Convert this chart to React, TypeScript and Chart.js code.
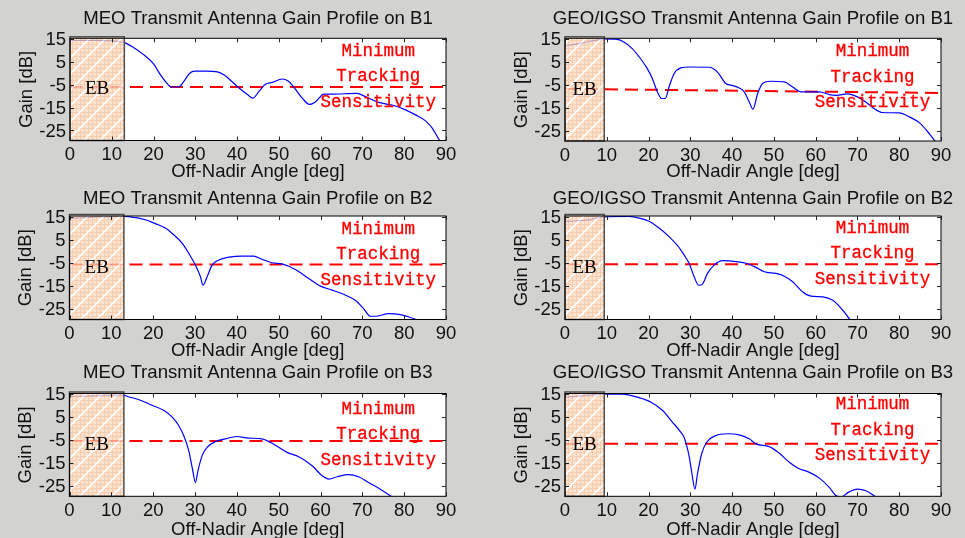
import { useEffect, useRef } from "react";
import { Chart, registerables } from "chart.js";

Chart.register(...registerables);

// ---------------- data ----------------
const xTickValues = [0, 10, 20, 30, 40, 50, 60, 70, 80, 90];
const yTickValues = [-25, -15, -5, 5, 15];
const panelTitles = [
  "MEO Transmit Antenna Gain Profile on B1",
  "GEO/IGSO Transmit Antenna Gain Profile on B1",
  "MEO Transmit Antenna Gain Profile on B2",
  "GEO/IGSO Transmit Antenna Gain Profile on B2",
  "MEO Transmit Antenna Gain Profile on B3",
  "GEO/IGSO Transmit Antenna Gain Profile on B3",
];
const xAxisTitle = "Off-Nadir Angle [deg]";
const yAxisTitle = "Gain [dB]";
const noteLines = ["Minimum", "Tracking", "Sensitivity"];
const ebText = "EB";

const meoB1Angle = [0, 3, 6, 9, 11, 13, 15, 17.3, 19.9, 21.7, 22.9, 24.3, 26.1, 27.3, 28.6, 29.9, 32.5, 35.3, 36.9, 38.8, 40.4, 42.4, 43.8, 45.2, 46.7, 48.4, 50.8, 52.2, 53.8, 55.6, 57.3, 58.8, 60.8, 62.8, 68.7, 70.7, 73.9, 77.5, 80.3, 82.7, 85.1, 86.7, 88.6, 90];
const meoB1Gain = [14.3, 14.4, 14.4, 14.2, 14.0, 13.4, 11.5, 8.6, 4.3, -0.8, -3.7, -6.0, -5.9, -3.4, -0.1, 0.9, 0.9, 0.6, -0.8, -3.7, -6.3, -9.2, -10.9, -8.0, -4.9, -4.0, -2.5, -3.4, -6.6, -10.9, -13.6, -12.4, -9.1, -9.1, -8.8, -10.2, -12.7, -14.1, -16.0, -18.2, -20.8, -24.0, -29.8, -33];

const geoB1Angle = [0, 1, 4.2, 7.3, 9.3, 12.1, 14.1, 16.1, 18.1, 19.7, 20.9, 22.1, 23.1, 24.0, 24.9, 26.1, 27.7, 29.7, 34.5, 36.5, 38.5, 39.7, 41.7, 42.9, 44.1, 45.0, 46.1, 47.3, 49.3, 52.5, 54.5, 56.5, 58.5, 60.9, 63.3, 64.9, 67.6, 70, 72, 74, 76, 80, 82.4, 84.8, 87.2, 88.7, 90];
const geoB1Gain = [12.0, 12.2, 13.3, 14.4, 15.0, 14.9, 13.7, 10.8, 6.4, 2.1, -2.2, -8.0, -10.9, -10.9, -5.9, -0.1, 2.4, 2.8, 2.7, 0.6, -4.4, -5.1, -6.3, -8.0, -12.4, -15.6, -8.8, -4.4, -3.4, -3.7, -5.9, -8.0, -8.0, -8.0, -9.2, -9.5, -8.9, -10.2, -12.4, -15.3, -17.0, -17.2, -18.9, -21.4, -26.2, -29.8, -32];

const meoB2Angle = [0, 1.4, 7, 13, 14.1, 18.1, 20.5, 22.9, 24.9, 26.9, 28.5, 30.1, 31.3, 31.9, 32.9, 34.1, 35.7, 38.1, 41.2, 44, 46, 48.4, 50.8, 54, 57.2, 60, 62.8, 66, 68.3, 70.3, 71.9, 73.1, 76.3, 78.7, 81.1, 83.1, 85];
const meoB2Gain = [14.3, 14.4, 14.9, 15.1, 15.0, 13.7, 12.0, 10.1, 7.2, 3.6, -0.8, -5.9, -10.9, -14.6, -10.9, -5.9, -3.7, -2.5, -2.0, -2.0, -3.4, -4.9, -5.4, -7.8, -11.7, -15.0, -16.7, -18.9, -21.1, -24.7, -28.0, -28.0, -26.9, -27.2, -28.3, -29.5, -31];

const geoB2Angle = [0, 1, 5.8, 9.1, 15.3, 17.7, 20.1, 22.5, 24.9, 27, 28.5, 29.7, 30.9, 32, 32.9, 34.1, 35.7, 37.7, 39.3, 43.3, 45.7, 47.7, 50.5, 52.5, 54.5, 56.9, 58.9, 61.7, 64.1, 66.5, 68.4, 70];
const geoB2Gain = [12.9, 13.0, 13.7, 14.9, 15.1, 14.4, 13.0, 10.1, 6.4, 2.4, -1.5, -5.1, -10.9, -14.6, -14.1, -9.5, -5.9, -4.0, -4.1, -5.1, -6.9, -8.8, -9.5, -10.7, -13.1, -17.5, -19.3, -19.6, -21.1, -25.4, -29.8, -32];

const meoB3Angle = [0, 1.4, 7, 13, 13.7, 16.5, 19.7, 22.5, 24.5, 26.1, 27.3, 28.5, 29.4, 30.1, 30.7, 31.7, 32.9, 34.9, 37.3, 40, 42.8, 46, 48, 50, 52, 54.8, 58, 60.4, 62, 64, 66.7, 69.1, 71.5, 74.3, 77.1, 79];
const meoB3Gain = [14.1, 14.1, 14.4, 14.6, 14.1, 12.7, 10.2, 8.0, 5.1, 1.4, -3.0, -9.5, -17.6, -23.4, -18.3, -11.7, -8.1, -5.6, -4.4, -3.4, -4.1, -4.4, -5.9, -8.1, -10.3, -12.2, -16.1, -20.5, -21.9, -20.9, -20.0, -20.9, -23.4, -26.3, -29.7, -32];

const geoB3Angle = [0, 1, 5.8, 9.3, 13.7, 17.7, 20.5, 23.3, 25.7, 27.7, 28.5, 29.6, 30.4, 31.1, 31.7, 32.7, 33.9, 36.1, 38.9, 41.7, 44.1, 45.7, 48.9, 51.3, 53.7, 55.7, 58.5, 60.9, 63.3, 64.9, 66.1, 67.7, 70, 72, 74, 75];
const geoB3Gain = [13.6, 13.8, 14.6, 15.0, 15.0, 13.5, 11.6, 8.0, 2.9, -1.5, -3.7, -11.0, -19.7, -26.3, -19.7, -11.0, -5.9, -3.0, -2.2, -2.7, -4.4, -6.6, -7.8, -10.7, -14.6, -17.1, -19.0, -21.5, -25.6, -29.2, -29.7, -27.8, -26.3, -27.0, -29.2, -31];

const ebEdge = [13, 9.4, 13, 9.4, 13, 9.4];
const thresholdStart = [-6.0, -6.7, -5.6, -5.5, -5.4, -6.5];
const thresholdEnd = [-6.0, -8.5, -5.6, -5.5, -5.4, -6.5];

const angleSets = [meoB1Angle, geoB1Angle, meoB2Angle, geoB2Angle, meoB3Angle, geoB3Angle];
const gainSets = [meoB1Gain, geoB1Gain, meoB2Gain, geoB2Gain, meoB3Gain, geoB3Gain];

// ---------------- layout ----------------
const PAGE_W = 965;
const PAGE_H = 538;
const Y_MIN = -29.4;
const Y_MAX = 15.3;

const layouts = [
  { plot: [70, 38.3, 446, 140.5], titleY: 19.3, xTitleY: 172, note: [73.8, -1.5] },
  { plot: [565, 38.3, 941, 141], titleY: 19, xTitleY: 172, note: [73.6, -1.6] },
  { plot: [69.5, 216, 446, 319.5], titleY: 198.7, xTitleY: 350.5, note: [73.8, -1.3] },
  { plot: [565, 216, 941, 319.5], titleY: 198.7, xTitleY: 350.5, note: [73.6, -1.0] },
  { plot: [69.5, 393.5, 446, 496.3], titleY: 373.3, xTitleY: 530, note: [73.8, -2.6] },
  { plot: [565, 393.5, 941, 496.3], titleY: 373, xTitleY: 530, note: [73.6, -0.7] },
];

const SANS = '"Liberation Sans", Arial, sans-serif';

function makeHatch(): CanvasPattern | string {
  const c = document.createElement("canvas");
  const s = 16;
  c.width = s;
  c.height = s;
  const g = c.getContext("2d");
  if (!g) return "#fad8bd";
  g.fillStyle = "#fbdcc4";
  g.fillRect(0, 0, s, s);
  g.strokeStyle = "#f5c19c";
  g.lineWidth = 1;
  for (let i = 0; i < s; i += 4) {
    g.beginPath();
    g.moveTo(i + 0.5, 0);
    g.lineTo(i + 0.5, s);
    g.stroke();
    g.beginPath();
    g.moveTo(0, i + 0.5);
    g.lineTo(s, i + 0.5);
    g.stroke();
  }
  g.strokeStyle = "#ffffff";
  g.lineWidth = 1.6;
  for (const off of [-s, 0, s]) {
    g.beginPath();
    g.moveTo(off - 1, s + 1);
    g.lineTo(off + s + 1, -1);
    g.stroke();
  }
  return g.createPattern(c, "repeat") || "#fad8bd";
}

function Panel({ idx }: { idx: number }) {
  const ref = useRef<HTMLCanvasElement>(null);

  useEffect(() => {
    const canvas = ref.current;
    if (!canvas) return;
    const L = layouts[idx];
    const [pl, pt, pr, pb] = L.plot;
    const hatch = makeHatch();
    const angles = angleSets[idx];
    const gains = gainSets[idx];

    const deco = {
      id: "deco",
      beforeDatasetsDraw(chart: any) {
        const { ctx, chartArea: a } = chart;
        ctx.save();
        ctx.fillStyle = "#ffffff";
        ctx.fillRect(a.left, a.top, a.right - a.left, a.bottom - a.top);
        ctx.restore();
      },
      afterDatasetsDraw(chart: any) {
        const { ctx, chartArea: a, scales } = chart;
        const xs = scales.x;
        const ys = scales.y;
        ctx.save();

        // EB shaded region
        const ex0 = xs.getPixelForValue(0);
        const ex1 = xs.getPixelForValue(ebEdge[idx]);
        const top = a.top - 1.5;
        ctx.globalAlpha = 0.8;
        ctx.fillStyle = hatch;
        ctx.fillRect(ex0, top, ex1 - ex0, a.bottom - top);
        ctx.globalAlpha = 1;
        ctx.strokeStyle = "#4d4d4d";
        ctx.lineWidth = 1.5;
        ctx.strokeRect(ex0, top, ex1 - ex0, a.bottom - top);

        ctx.fillStyle = "#000000";
        ctx.font = '19px "Liberation Serif", "Times New Roman", serif';
        ctx.textAlign = "center";
        ctx.textBaseline = "middle";
        ctx.fillText(ebText, (ex0 + ex1) / 2, ys.getPixelForValue(-7));

        // box
        ctx.strokeStyle = "#000000";
        ctx.lineWidth = 1;
        ctx.strokeRect(a.left, a.top, a.right - a.left, a.bottom - a.top);

        // ticks
        ctx.strokeStyle = "#222222";
        ctx.beginPath();
        for (const v of xTickValues) {
          const px = Math.round(xs.getPixelForValue(v)) + 0.5;
          ctx.moveTo(px, a.bottom);
          ctx.lineTo(px, a.bottom - 4);
          ctx.moveTo(px, a.top);
          ctx.lineTo(px, a.top + 4);
        }
        for (const v of yTickValues) {
          const py = Math.round(ys.getPixelForValue(v)) + 0.5;
          ctx.moveTo(a.left, py);
          ctx.lineTo(a.left + 4, py);
          ctx.moveTo(a.right, py);
          ctx.lineTo(a.right - 4, py);
        }
        ctx.stroke();

        // tick labels
        ctx.fillStyle = "#111111";
        ctx.font = `18.5px ${SANS}`;
        ctx.textAlign = "center";
        ctx.textBaseline = "middle";
        for (const v of xTickValues) {
          ctx.fillText(String(v), xs.getPixelForValue(v), a.bottom + 14.5);
        }
        ctx.textAlign = "right";
        for (const v of yTickValues) {
          ctx.fillText(String(v), a.left - 4, ys.getPixelForValue(v) + 1);
        }

        // titles
        ctx.textAlign = "center";
        ctx.font = `18.6px ${SANS}`;
        ctx.fillText(panelTitles[idx], (a.left + a.right) / 2, L.titleY);
        ctx.font = `18.5px ${SANS}`;
        ctx.fillText(xAxisTitle, (a.left + a.right) / 2, L.xTitleY);
        ctx.save();
        ctx.translate(a.left - 43.5, (a.top + a.bottom) / 2);
        ctx.rotate(-Math.PI / 2);
        ctx.fillText(yAxisTitle, 0, 0);
        ctx.restore();

        // red annotation
        ctx.fillStyle = "#ff0000";
        ctx.strokeStyle = "#ff0000";
        ctx.lineWidth = 0.3;
        ctx.font = '17.5px "Liberation Mono", "Courier New", monospace';
        const cx = xs.getPixelForValue(L.note[0]);
        const cy = ys.getPixelForValue(L.note[1]);
        noteLines.forEach((t, i) => {
          ctx.fillText(t, cx, cy + (i - 1) * 25.5);
          ctx.strokeText(t, cx, cy + (i - 1) * 25.5);
        });

        ctx.restore();
      },
    };

    const chart = new Chart(canvas, {
      type: "line",
      data: {
        datasets: [
          {
            data: angles.map((x, i) => ({ x, y: gains[i] })),
            borderColor: "#0000ff",
            borderWidth: 1.2,
            pointRadius: 0,
            cubicInterpolationMode: "monotone",
            fill: false,
          },
          {
            data: [
              { x: 0, y: thresholdStart[idx] },
              { x: 90, y: thresholdEnd[idx] },
            ],
            borderColor: "#ff0000",
            borderWidth: 2,
            borderDash: [13, 7],
            pointRadius: 0,
            fill: false,
          },
        ],
      },
      options: {
        responsive: false,
        maintainAspectRatio: false,
        animation: false,
        layout: {
          padding: { left: pl, top: pt, right: PAGE_W - pr, bottom: PAGE_H - pb },
        },
        plugins: {
          legend: { display: false },
          tooltip: { enabled: false },
          title: { display: false },
        },
        scales: {
          x: { type: "linear", min: 0, max: 90, display: false },
          y: { type: "linear", min: Y_MIN, max: Y_MAX, display: false },
        },
      },
      plugins: [deco],
    } as any);

    return () => chart.destroy();
  }, [idx]);

  return (
    <canvas
      ref={ref}
      width={PAGE_W}
      height={PAGE_H}
      style={{ position: "absolute", left: 0, top: 0, width: PAGE_W, height: PAGE_H }}
    />
  );
}

export default function App() {
  return (
    <div
      style={{
        position: "fixed",
        left: 0,
        top: 0,
        width: PAGE_W,
        height: PAGE_H,
        background: "#d2d2d0",
        overflow: "hidden",
      }}
    >
      {layouts.map((_, i) => (
        <Panel key={i} idx={i} />
      ))}
    </div>
  );
}
